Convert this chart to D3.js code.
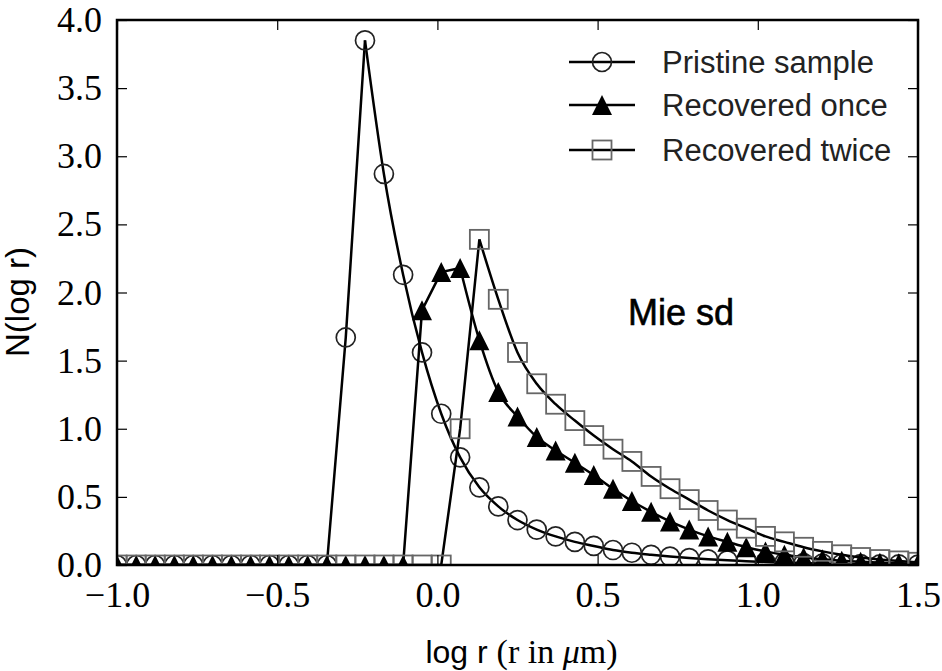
<!DOCTYPE html>
<html>
<head>
<meta charset="utf-8">
<script src="https://cdn.jsdelivr.net/npm/d3@7"></script>
<style>
  body { margin: 0; background: #fff; }
  svg { display: block; }
</style>
</head>
<body>
<div id="chart"></div>
<script>
// log r grid (43 bins from -1 to 1.5)
const logR = [-1.000, -0.940, -0.881, -0.821, -0.762, -0.702, -0.643, -0.583, -0.524, -0.464,
  -0.405, -0.345, -0.286, -0.226, -0.167, -0.107, -0.048, 0.012, 0.071, 0.131,
  0.190, 0.250, 0.310, 0.369, 0.429, 0.488, 0.548, 0.607, 0.667, 0.726,
  0.786, 0.845, 0.905, 0.964, 1.024, 1.083, 1.143, 1.202, 1.262, 1.321,
  1.381, 1.440, 1.500]

const pristine = [0, 0, 0, 0, 0, 0, 0, 0, 0, 0, 0, 0,
  1.67, 3.85, 2.87, 2.13, 1.56, 1.11, 0.79, 0.57, 0.43, 0.33, 0.26, 0.21, 0.17, 0.14,
  0.11, 0.09, 0.075, 0.062, 0.051, 0.042, 0.034, 0.028, 0.022, 0.018, 0.014, 0.011,
  0.009, 0.007, 0.005, 0.004, 0.003]

const recoveredOnce = [0, 0, 0, 0, 0, 0, 0, 0, 0, 0, 0, 0, 0, 0, 0, 0,
  1.87, 2.15, 2.18, 1.65, 1.27, 1.09, 0.94, 0.84, 0.75, 0.66, 0.56, 0.47, 0.39, 0.32,
  0.26, 0.21, 0.17, 0.13, 0.10, 0.075, 0.056, 0.042, 0.031, 0.023, 0.017, 0.012, 0.009]

const recoveredTwice = [0, 0, 0, 0, 0, 0, 0, 0, 0, 0, 0, 0, 0, 0, 0, 0, 0, 0,
  1.00, 2.39, 1.95, 1.56, 1.33, 1.18, 1.06, 0.95, 0.85, 0.76, 0.65, 0.56, 0.48, 0.40,
  0.33, 0.27, 0.21, 0.17, 0.13, 0.10, 0.075, 0.055, 0.04, 0.03, 0.02]

const seriesNames = ['Pristine sample', 'Recovered once', 'Recovered twice']
const seriesValues = [pristine, recoveredOnce, recoveredTwice]
const markerTypes = ['circle', 'triangle', 'square']

const xTicks = [-1.0, -0.5, 0.0, 0.5, 1.0, 1.5]
const yTicks = [0.0, 0.5, 1.0, 1.5, 2.0, 2.5, 3.0, 3.5, 4.0]

const width = 942
const height = 671
const margin = { top: 20, right: 24, bottom: 106, left: 117 }
const innerW = width - margin.left - margin.right
const innerH = height - margin.top - margin.bottom

const svg = d3.select('#chart')
  .append('svg')
  .attr('width', width)
  .attr('height', height)

const g = svg.append('g')
  .attr('transform', `translate(${margin.left},${margin.top})`)

const x = d3.scaleLinear().domain([-1, 1.5]).range([0, innerW])
const y = d3.scaleLinear().domain([0, 4]).range([innerH, 0])

svg.append('defs').append('clipPath')
  .attr('id', 'plot-clip')
  .append('rect')
  .attr('width', innerW)
  .attr('height', innerH)

// marker shapes
function drawMarker(sel, type) {
  if (type === 'circle') {
    sel.append('circle')
      .attr('r', 9.5)
      .attr('fill', 'none')
      .attr('stroke', '#222')
      .attr('stroke-width', 1.7)
  } else if (type === 'triangle') {
    sel.append('path')
      .attr('d', 'M0,-10 L10,10 L-10,10 Z')
      .attr('fill', '#000')
  } else {
    sel.append('rect')
      .attr('x', -9.5)
      .attr('y', -9.5)
      .attr('width', 19)
      .attr('height', 19)
      .attr('fill', 'none')
      .attr('stroke', '#666')
      .attr('stroke-width', 1.8)
  }
}

const plot = g.append('g').attr('clip-path', 'url(#plot-clip)')

seriesValues.forEach((vals, k) => {
  const pts = logR.map((r, i) => [r, vals[i]])
  const peak = d3.maxIndex(vals)

  // rising part straight, falling tail smooth
  const rise = d3.line().x(d => x(d[0])).y(d => y(d[1]))
  const fall = d3.line().x(d => x(d[0])).y(d => y(d[1])).curve(d3.curveMonotoneX)

  plot.append('path')
    .attr('d', rise(pts.slice(0, peak + 1)))
    .attr('fill', 'none')
    .attr('stroke', '#000')
    .attr('stroke-width', 2.5)
  plot.append('path')
    .attr('d', fall(pts.slice(peak)))
    .attr('fill', 'none')
    .attr('stroke', '#000')
    .attr('stroke-width', 2.5)

  pts.forEach(p => {
    const m = plot.append('g').attr('transform', `translate(${x(p[0])},${y(p[1])})`)
    drawMarker(m, markerTypes[k])
  })
})

// axes, ticks pointing inward on all four sides
const fmt = d3.format('.1f')
const xAxis = g.append('g')
  .attr('transform', `translate(0,${innerH})`)
  .call(d3.axisBottom(x).tickValues(xTicks).tickFormat(fmt).tickSizeInner(-10).tickSizeOuter(0).tickPadding(16))
const xTop = g.append('g')
  .call(d3.axisTop(x).tickValues(xTicks).tickFormat('').tickSizeInner(-10).tickSizeOuter(0))
const yAxis = g.append('g')
  .call(d3.axisLeft(y).tickValues(yTicks).tickFormat(fmt).tickSizeInner(-10).tickSizeOuter(0).tickPadding(15))
const yRight = g.append('g')
  .attr('transform', `translate(${innerW},0)`)
  .call(d3.axisRight(y).tickValues(yTicks).tickFormat('').tickSizeInner(-10).tickSizeOuter(0))

;[xAxis, xTop, yAxis, yRight].forEach(a => {
  a.select('.domain').remove()
  a.selectAll('.tick line').attr('stroke', '#000').attr('stroke-width', 1.2)
  a.selectAll('.tick text')
    .attr('fill', '#000')
    .style('font-family', '"Liberation Serif", "DejaVu Serif", serif')
    .style('font-size', '36px')
})

// frame
g.append('rect')
  .attr('width', innerW)
  .attr('height', innerH)
  .attr('fill', 'none')
  .attr('stroke', '#000')
  .attr('stroke-width', 2.5)

// axis titles
svg.append('text')
  .attr('transform', 'translate(29,302) rotate(-90)')
  .attr('text-anchor', 'middle')
  .style('font-family', '"Liberation Sans", Arial, sans-serif')
  .style('font-size', '33px')
  .attr('fill', '#000')
  .text('N(log r)')

const xt = svg.append('text')
  .attr('x', margin.left + innerW / 2 + 4)
  .attr('y', 663)
  .attr('text-anchor', 'middle')
  .attr('fill', '#000')
xt.append('tspan')
  .style('font-family', '"Liberation Sans", Arial, sans-serif')
  .style('font-size', '32px')
  .text('log r ')
xt.append('tspan')
  .style('font-family', '"Liberation Serif", serif')
  .style('font-size', '34px')
  .text('(r in ')
xt.append('tspan')
  .style('font-family', '"Liberation Serif", serif')
  .style('font-style', 'italic')
  .style('font-size', '34px')
  .text('\u03bc')
xt.append('tspan')
  .style('font-family', '"Liberation Serif", serif')
  .style('font-size', '34px')
  .text('m)')

// annotation
g.append('text')
  .attr('x', x(0.595))
  .attr('y', y(1.76))
  .style('font-family', '"Liberation Sans", Arial, sans-serif')
  .style('font-size', '36px')
  .style('font-weight', '500')
  .attr('fill', '#000')
  .attr('stroke', '#000')
  .attr('stroke-width', 0.6)
  .text('Mie sd')

// legend
const legendRows = [62, 105, 150]
seriesNames.forEach((name, k) => {
  const row = svg.append('g').attr('transform', `translate(569,${legendRows[k]})`)
  row.append('line')
    .attr('x1', 0)
    .attr('x2', 66)
    .attr('stroke', '#000')
    .attr('stroke-width', 2.5)
  const m = row.append('g').attr('transform', 'translate(33,0)')
  drawMarker(m, markerTypes[k])
  row.append('text')
    .attr('x', 93)
    .attr('dy', '0.36em')
    .style('font-family', '"Liberation Sans", Arial, sans-serif')
    .style('font-size', '31px')
    .attr('fill', '#222')
    .text(name)
})
</script>
</body>
</html>
